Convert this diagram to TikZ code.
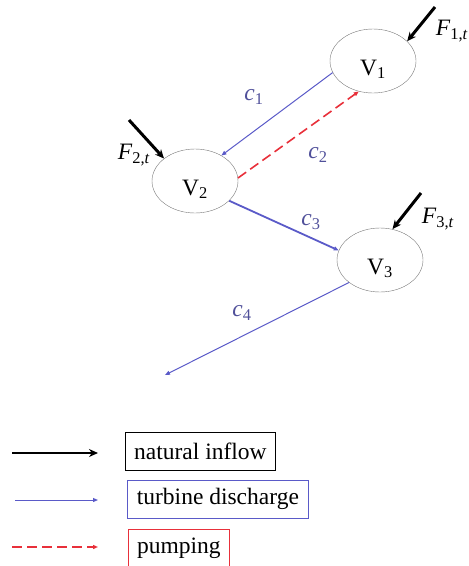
\documentclass[tikz,border=0pt]{standalone}
\usepackage{fontspec}
\setmainfont{Liberation Serif}
\usepackage{tikz}
\usetikzlibrary{arrows.meta,positioning,shapes.geometric}
\definecolor{flowblue}{HTML}{5A5AC8}
\definecolor{lblblue}{HTML}{50509A}
\definecolor{pumpred}{HTML}{E8303A}
\definecolor{rim}{HTML}{7A7A7A}

\begin{document}
\begin{tikzpicture}[x=1pt, y=-1pt,
  res/.style={draw=rim, ellipse, minimum width=86pt, minimum height=64pt, inner sep=0pt, text height=28pt, text depth=0pt, font=\fontsize{23.5}{27}\selectfont},
  inflow/.style={-{Stealth[length=9pt,width=8pt]}, line width=3pt},
  turb/.style={-{Triangle[length=5pt,width=4pt]}, flowblue, line width=1pt},
  pump/.style={-{Triangle[length=5pt,width=4pt]}, pumpred, line width=1.6pt, dash pattern=on 10pt off 5pt},
  clbl/.style={text=lblblue, font=\fontsize{23.5}{27}\selectfont\itshape},
  flbl/.style={font=\fontsize{23.5}{27}\selectfont},
  key/.style={draw, line width=0.8pt, minimum height=38pt, inner xsep=7pt, anchor=west, font=\fontsize{23.5}{27}\selectfont}
]
\useasboundingbox (0,0) rectangle (469,566);

% reservoirs
\node[res] (v1) at (373,61) {V\textsubscript{1}};
\node[res] (v2) at (195,181) {V\textsubscript{2}};
\node[res] (v3) at (380,260) {V\textsubscript{3}};

% natural inflows
\coordinate (f1) at (435,7);
\coordinate (f2) at (129,120);
\coordinate (f3) at (421,193);
\draw[inflow] (f1) -- (v1.30);
\draw[inflow] (f2) -- (v2.144);
\draw[inflow] (f3) -- (v3.68);
\node[flbl] (f1lbl) at (452,31) {\textit{F}\textsubscript{1,\textit{t}}};
\node[flbl] (f2lbl) at (134,155) {\textit{F}\textsubscript{2,\textit{t}}};
\node[flbl] (f3lbl) at (438,219) {\textit{F}\textsubscript{3,\textit{t}}};

% discharges and pumping
\coordinate (out) at (165,375);
\draw[turb] (v1.196) -- (v2.44);
\draw[pump] (v2.4) -- (v1.245);
\draw[turb, line width=1.8pt] (v2.330) -- (v3.167);
\draw[turb] (v3.216) -- (out);
\node[clbl] (c1) at (254,97) {c\textsubscript{\upshape 1}};
\node[clbl] (c2) at (318,155) {c\textsubscript{\upshape 2}};
\node[clbl] (c3) at (311,222) {c\textsubscript{\upshape 3}};
\node[clbl] (c4) at (242,313) {c\textsubscript{\upshape 4}};

% legend
\node[key, minimum width=150pt] (knat) at (125,451) {natural inflow};
\node[key, draw=flowblue, minimum width=181pt] (kturb) at (127,499) {turbine discharge};
\node[key, draw=pumpred, minimum width=101pt] (kpump) at (128,548) {pumping};
\coordinate (a1) at (12,453);
\coordinate (b1) at (98,453);
\coordinate (a2) at (15,500);
\coordinate (b2) at (98,500);
\coordinate (a3) at (12,547);
\coordinate (b3) at (98,547);
\draw[-{Stealth[length=9pt,width=8pt]}, line width=2.4pt] (a1) -- (b1);
\draw[turb] (a2) -- (b2);
\draw[pump] (a3) -- (b3);
\end{tikzpicture}
\end{document}
